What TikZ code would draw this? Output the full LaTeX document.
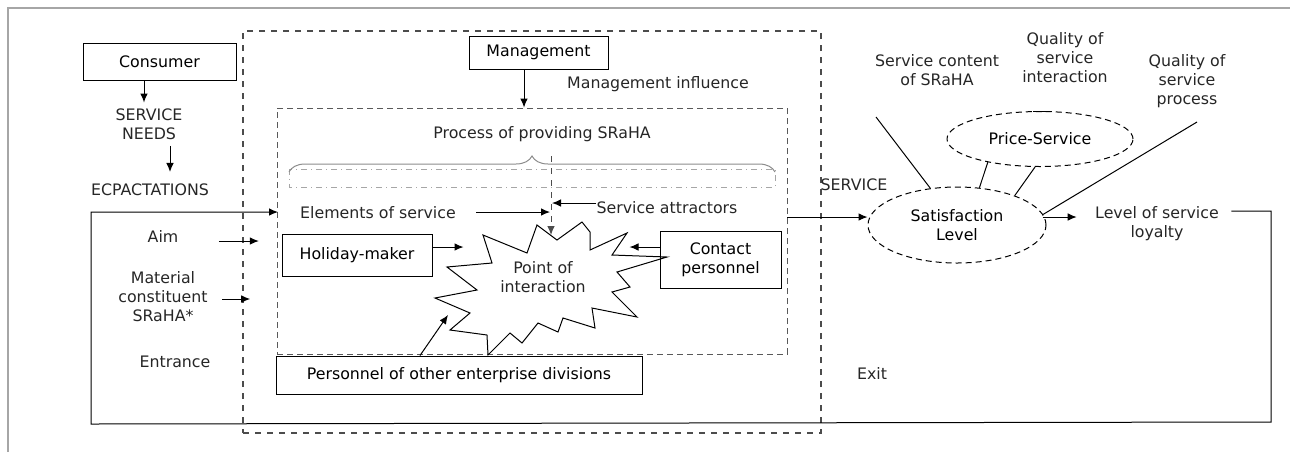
\documentclass[tikz,border=0pt]{standalone}
\usepackage{fontspec}
\setmainfont{DejaVu Sans}
\usetikzlibrary{arrows.meta,shapes.geometric,decorations.pathreplacing}

\tikzset{
  box/.style={draw, rectangle, inner sep=0pt, align=center},
  lbl/.style={inner sep=0pt, align=center, text=black!85},
  oval/.style={draw, ellipse, densely dashed, inner sep=0pt, align=center},
  arr/.style={-{Latex[length=4.5pt,width=3.8pt]}},
}

\begin{document}
\begin{tikzpicture}[x=0.5pt, y=-0.5pt, font=\fontsize{7.9}{9.5}\selectfont, line width=0.5pt]
  \useasboundingbox (0,0) rectangle (1290,452);
  \draw[gray!70, line width=1pt] (8,452) -- (8,8) -- (1290,8); % frame

  % Enterprise and process boxes
  \node[draw, gray!60!black, dashed, line width=0.6pt, minimum width=289pt, minimum height=201pt] (ent) at (532,232) {};
  \node[draw, gray!70!black, densely dashed, minimum width=255pt, minimum height=123pt] (proc) at (532,231) {};
  \draw[gray!70, dash dot] (289,169) rectangle (775,187);
  \draw[black!45, decorate, decoration={brace, amplitude=8pt}] (289,172) -- (775,172);
  \coordinate (bracetip) at (551,156);

  % Consumer side
  \node[box, minimum width=76.5pt, minimum height=18.5pt] (cons) at (159.5,61.5) {Consumer};
  \node[lbl] (needs) at (149,124) {SERVICE\\NEEDS};
  \node[lbl] (expect) at (150,190) {ECPACTATIONS};
  \node[lbl] (aim) at (163,236) {Aim};
  \node[lbl] (mat) at (163,297) {Material\\constituent\\SRaHA*};
  \node[lbl] (entr) at (175,362) {Entrance};
  \draw[arr] ([xshift=-7.75pt]cons.south) -- ++(0,22);
  \draw[arr] ([xshift=10.5pt,yshift=-3pt]needs.south) -- ++(0,26);
  \draw[arr] ([xshift=20pt,yshift=-2.5pt]aim.east) -- ++(40,0);
  \draw[arr] ([xshift=7pt,yshift=-1pt]mat.east) -- ++(28,0);

  % Management
  \node[box, minimum width=69.5pt, minimum height=16.5pt] (mgmt) at (538.5,52.5) {Management};
  \node[lbl] (infl) at (658,84) {Management influence};
  \draw[arr] ([xshift=-7.25pt]mgmt.south) -- ([xshift=-7.25pt]mgmt.south |- proc.north);
  \node[lbl] (prov) at (542,134) {Process of providing SRaHA};

  % Point of interaction
  \draw[fill=white] (483,235) -- (527,253) -- (537,225) -- (557,240) -- (582,222) -- (590,232)
    -- (590,250) -- (627,233) -- (612,255) -- (667,257) -- (617,272) -- (630,287) -- (612,292)
    -- (637,317) -- (592,308) -- (595,328) -- (563,318) -- (558,332) -- (538,323) -- (522,343)
    -- (510,333) -- (488,355) -- (487,335) -- (450,330) -- (470,313) -- (435,298) -- (477,290)
    -- (447,267) -- (492,263) -- cycle;
  \node[lbl] (poi) at (543,277.5) {Point of\\interaction};
  \coordinate (poitop) at (551,235);
  \coordinate (poisw) at (448,315);
  \coordinate (hub) at (550,212);
  \coordinate (hubtop) at (552,203);

  \node[lbl] (elem) at (378,213) {Elements of service};
  \node[lbl] (attr) at (667,208) {Service attractors};
  \node[box, minimum width=75pt, minimum height=21pt] (hm) at (357,255) {Holiday-maker};
  \node[box, minimum width=60.5pt, minimum height=28.5pt] (ct) at (720.5,259.5) {Contact\\personnel};
  \node[box, minimum width=183pt, minimum height=19pt] (pers) at (459,375) {Personnel of other enterprise divisions};

  \draw[arr, gray!60!black, dashed] (bracetip) -- (poitop);
  \draw[arr] ([xshift=10pt]elem.east |- hub) -- (hub);
  \draw[arr] (attr.west |- hubtop) -- (hubtop);
  \draw[arr] ([yshift=4pt]hm.east) -- ++(31,0);
  \draw[arr] ([yshift=6.25pt]ct.west) -- ++(-30,0);
  \draw[arr] ([xshift=-19.5pt]pers.north) -- (poisw);

  % Output side
  \node[lbl] (svc) at (854,185) {SERVICE};
  \node[lbl] (exit) at (872,373) {Exit};
  \node[oval, minimum width=89pt, minimum height=38pt] (sat) at (957,225) {Satisfaction\\Level};
  \node[oval, minimum width=93pt, minimum height=27.5pt] (price) at (1040,139) {Price-Service};
  \node[lbl] (cont) at (937,70) {Service content\\of SRaHA};
  \node[lbl] (qint) at (1065,57.5) {Quality of\\service\\interaction};
  \node[lbl] (qproc) at (1187,81) {Quality of\\service\\process};
  \node[lbl] (loyal) at (1157,224) {Level of service\\loyalty};
  \coordinate (conttail) at (876,117);
  \coordinate (qproctail) at (1197,122);
  \coordinate (svcout) at (787,217);

  \draw[arr] (svcout) -- (svcout -| sat.west);
  \draw[arr] ([xshift=-2pt,yshift=4pt]sat.east) -- ([xshift=-9pt,yshift=4pt]sat.east -| loyal.west);
  \draw (conttail) -- (sat.126);
  \draw ([xshift=-3.5pt]price.north) -- ([xshift=5pt]price.north);
  \draw (price.204) -- (sat.59);
  \draw (price.260) -- (sat.27);
  \draw (qproctail) -- (sat.7);

  % Feedback loop
  \coordinate (fb1) at (1271,211);
  \coordinate (fb2) at (1271,422);
  \coordinate (fb3) at (91,424);
  \coordinate (fb4) at (91,212);
  \coordinate (fbin) at (278,212);
  \draw[arr] ([xshift=6pt]loyal.east |- fb1) -- (fb1) -- (fb2) -- (fb3) -- (fb4) -- (fbin);
\end{tikzpicture}
\end{document}
